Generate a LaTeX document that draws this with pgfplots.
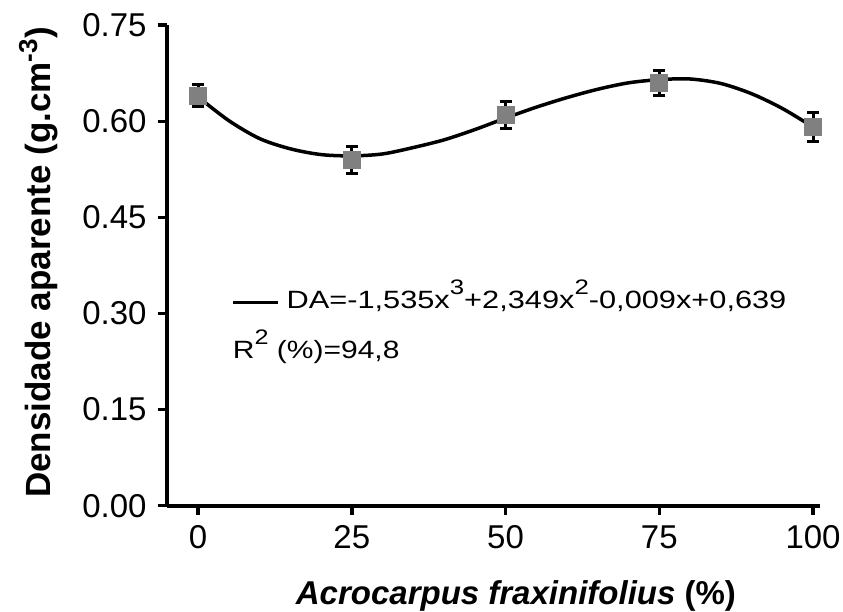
\documentclass[border=0pt]{standalone}
\usepackage{pgfplots}
\pgfplotsset{compat=1.18}
\usepackage{graphicx}
\usepackage{fontspec}
\setmainfont{Liberation Sans}
\newcommand{\mysup}[1]{\raisebox{14pt}{\fontsize{21}{21}\selectfont #1}}
\begin{document}
\begin{tikzpicture}
\path[use as bounding box] (0pt,0pt) rectangle (843pt,612pt);
\begin{axis}[
  at={(166.7pt,106.3pt)}, anchor=south west,
  x=6.15pt, y=640.7pt,
  xmin=-5.1, xmax=101.1, ymin=0, ymax=0.75,
  axis x line*=bottom, axis y line*=left,
  axis line style={line width=4pt, -},
  xtick={0,25,50,75,100},
  ytick={0,0.15,0.30,0.45,0.60,0.75},
  yticklabel style={/pgf/number format/fixed, /pgf/number format/fixed zerofill, /pgf/number format/precision=2, xshift=-11pt},
  tick align=outside, major tick length=9pt,
  tick style={line width=3.5pt, black},
  /pgf/number format/assume math mode=true,
  ticklabel style={font=\fontsize{33}{40}\selectfont, inner sep=0pt},
  xticklabel style={yshift=-11pt},
  xlabel={\textbf{\textit{Acrocarpus fraxinifolius} (\%)}},
  xlabel style={font=\fontsize{33}{40}\selectfont, at={(axis description cs:0.5347,-0.2066)}, anchor=base, inner sep=0pt},
  ylabel={\textbf{Densidade aparente (g.cm\raisebox{13pt}{\fontsize{26}{26}\selectfont\bfseries -3})}},
  ylabel style={font=\fontsize{35}{42}\selectfont, at={(axis description cs:-0.1786,0.506)}, anchor=base, inner sep=0pt},
  clip=false,
]
% error bars
\addplot[draw=none, mark=none, forget plot,
  error bars/.cd, y dir=both, y explicit,
  error bar style={line width=3pt, black},
  error mark options={rotate=90, mark size=6pt, line width=3pt, black}]
  table[x=x, y=y, y error=e] {
x y e
0 0.640 0.017
25 0.540 0.021
50 0.610 0.021
75 0.660 0.019
100 0.591 0.023
};
% squares
\addplot[only marks, color=black!50, mark=square*, mark size=8.5pt, mark options={fill=black!50, draw=black!50, line width=0pt}]
  table[x=x, y=y] {
x y
0 0.640
25 0.540
50 0.610
75 0.660
100 0.591
};
% fitted curve
\addplot[line width=3.5pt, black, smooth, mark=none] coordinates {
(0,0.638) (5,0.601) (10,0.573) (15,0.557) (20,0.548) (25,0.546) (30,0.549)
(35,0.559) (40,0.571) (45,0.587) (50,0.605) (55,0.622) (60,0.637) (65,0.650)
(70,0.660) (75,0.665) (80,0.666) (85,0.659) (90,0.643) (95,0.620) (100,0.591)
};
\draw[line width=3pt] (axis cs:5.69,0.3175) -- (axis cs:13.01,0.3175);
\node[anchor=base west, inner sep=0pt, font=\fontsize{25}{30}\selectfont] at (axis cs:14.37,0.307)
  {\scalebox{1.23}[1]{DA=-1,535x\mysup{3}+2,349x\mysup{2}-0,009x+0,639}};
\node[anchor=base west, inner sep=0pt, font=\fontsize{25}{30}\selectfont] at (axis cs:5.64,0.2305)
  {\scalebox{1.2}[1]{R\mysup{2} (\%)=94,8}};
\end{axis}
\end{tikzpicture}
\end{document}
